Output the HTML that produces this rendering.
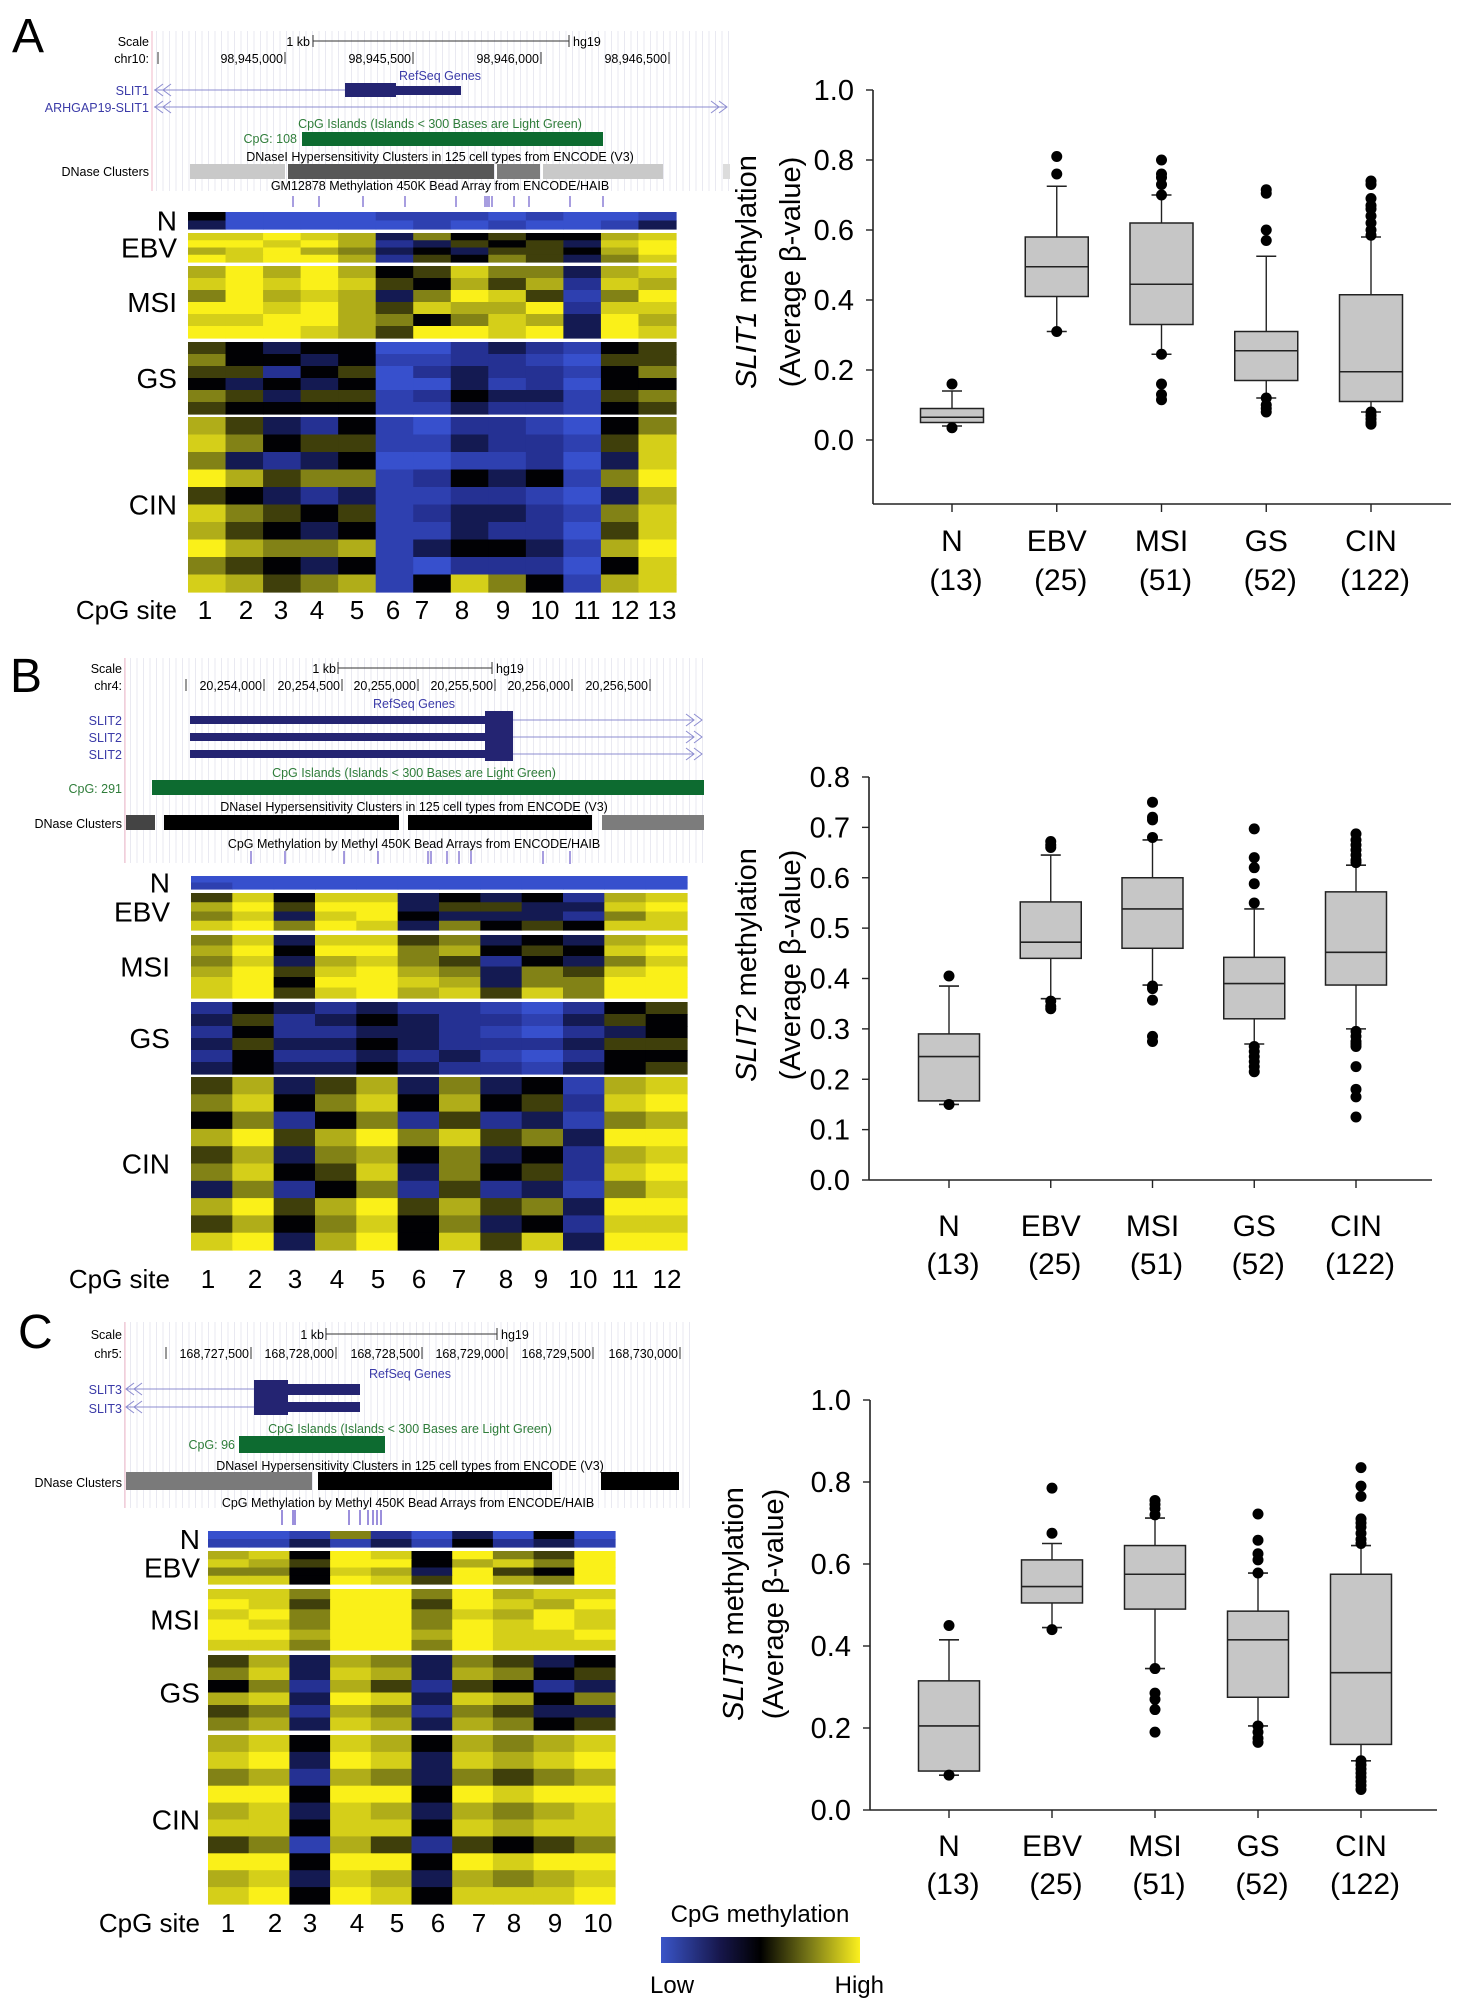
<!DOCTYPE html>
<html><head><meta charset="utf-8">
<style>
html,body{margin:0;padding:0;background:#fff;}
svg{display:block;font-family:"Liberation Sans",Arial,sans-serif;}
</style></head>
<body>
<svg id="fig" width="1461" height="2008" viewBox="0 0 1461 2008" xmlns="http://www.w3.org/2000/svg">
<defs>
<pattern id="grid" width="6.5" height="10" patternUnits="userSpaceOnUse"><rect x="0" y="0" width="1" height="10" fill="#e9e9f1"/></pattern>
<linearGradient id="cbar" x1="0" x2="1" y1="0" y2="0">
<stop offset="0" stop-color="#3a55c8"/><stop offset="0.3" stop-color="#16164a"/><stop offset="0.5" stop-color="#000"/><stop offset="0.75" stop-color="#7a7a18"/><stop offset="1" stop-color="#fbf01e"/>
</linearGradient>
</defs>

<!-- Panel letters -->
<text x="12" y="52" font-size="48">A</text>
<text x="10" y="692" font-size="48">B</text>
<text x="18" y="1348" font-size="48">C</text>

<!-- ===== Browser A ===== -->
<g font-size="12.5">
<rect x="151" y="31" width="579" height="160" fill="url(#grid)"/>
<line x1="152" y1="31" x2="152" y2="191" stroke="#f2b8c8"/>
<text x="149" y="46" text-anchor="end">Scale</text>
<text x="149" y="63" text-anchor="end">chr10:</text>
<text x="310" y="46" text-anchor="end">1 kb</text>
<line x1="313" y1="41" x2="569" y2="41" stroke="#333"/><line x1="313" y1="35" x2="313" y2="47" stroke="#333"/><line x1="569" y1="35" x2="569" y2="47" stroke="#333"/>
<text x="573" y="46">hg19</text>
<line x1="158" y1="52" x2="158" y2="64" stroke="#333"/>
<text x="283" y="63" text-anchor="end">98,945,000</text><line x1="285" y1="52" x2="285" y2="64" stroke="#333"/>
<text x="411" y="63" text-anchor="end">98,945,500</text><line x1="413" y1="52" x2="413" y2="64" stroke="#333"/>
<text x="539" y="63" text-anchor="end">98,946,000</text><line x1="541" y1="52" x2="541" y2="64" stroke="#333"/>
<text x="667" y="63" text-anchor="end">98,946,500</text><line x1="669" y1="52" x2="669" y2="64" stroke="#333"/>
<text x="440" y="80" text-anchor="middle" fill="#3b3ba8">RefSeq Genes</text>
<text x="149" y="95" text-anchor="end" fill="#3b3ba8">SLIT1</text>
<line x1="154" y1="90" x2="345" y2="90" stroke="#8c8cd0"/>
<polyline points="163,84 155,90 163,96" fill="none" stroke="#8c8cd0"/><polyline points="171,84 163,90 171,96" fill="none" stroke="#8c8cd0"/>
<rect x="345" y="83" width="51" height="14" fill="#242472"/><rect x="396" y="86" width="65" height="9" fill="#242472"/>
<text x="149" y="112" text-anchor="end" fill="#3b3ba8">ARHGAP19-SLIT1</text>
<line x1="154" y1="107" x2="727" y2="107" stroke="#8c8cd0"/>
<polyline points="163,101 155,107 163,113" fill="none" stroke="#8c8cd0"/><polyline points="171,101 163,107 171,113" fill="none" stroke="#8c8cd0"/>
<polyline points="711,101 719,107 711,113" fill="none" stroke="#8c8cd0"/><polyline points="719,101 727,107 719,113" fill="none" stroke="#8c8cd0"/>
<text x="440" y="128" text-anchor="middle" fill="#2f7d3a">CpG Islands (Islands &lt; 300 Bases are Light Green)</text>
<text x="297" y="143" text-anchor="end" fill="#2f7d3a">CpG: 108</text>
<rect x="302" y="132" width="301" height="14" fill="#0d6b30"/>
<text x="440" y="161" text-anchor="middle">DNaseI Hypersensitivity Clusters in 125 cell types from ENCODE (V3)</text>
<text x="149" y="176" text-anchor="end">DNase Clusters</text>
<rect x="190" y="164" width="95" height="15" fill="#c9c9c9"/><rect x="288" y="164" width="206" height="15" fill="#575757"/><rect x="497" y="164" width="43" height="15" fill="#7c7c7c"/><rect x="543" y="164" width="120" height="15" fill="#c9c9c9"/><rect x="723" y="164" width="7" height="15" fill="#dcdcdc"/>
<text x="440" y="190" text-anchor="middle">GM12878 Methylation 450K Bead Array from ENCODE/HAIB</text>
<g stroke="#7a6ad0" stroke-width="1.3"><line x1="293" y1="196" x2="293" y2="207"/><line x1="319" y1="196" x2="319" y2="207"/><line x1="363" y1="196" x2="363" y2="207"/><line x1="405" y1="196" x2="405" y2="207"/><line x1="456" y1="196" x2="456" y2="207"/><line x1="485" y1="196" x2="485" y2="207"/><line x1="487" y1="196" x2="487" y2="207"/><line x1="489" y1="196" x2="489" y2="207"/><line x1="492" y1="196" x2="492" y2="207"/><line x1="514" y1="196" x2="514" y2="207"/><line x1="529" y1="196" x2="529" y2="207"/><line x1="570" y1="196" x2="570" y2="207"/><line x1="603" y1="196" x2="603" y2="207"/></g>
</g>

<!-- ===== Browser B ===== -->
<g font-size="12.5">
<rect x="124" y="658" width="580" height="205" fill="url(#grid)"/>
<line x1="125" y1="658" x2="125" y2="863" stroke="#f2b8c8"/>
<text x="122" y="673" text-anchor="end">Scale</text>
<text x="122" y="690" text-anchor="end">chr4:</text>
<text x="336" y="673" text-anchor="end">1 kb</text>
<line x1="338" y1="668" x2="492" y2="668" stroke="#333"/><line x1="338" y1="662" x2="338" y2="674" stroke="#333"/><line x1="492" y1="662" x2="492" y2="674" stroke="#333"/>
<text x="496" y="673">hg19</text>
<line x1="186" y1="679" x2="186" y2="691" stroke="#333"/>
<text x="262" y="690" text-anchor="end">20,254,000</text><line x1="264" y1="679" x2="264" y2="691" stroke="#333"/>
<text x="340" y="690" text-anchor="end">20,254,500</text><line x1="342" y1="679" x2="342" y2="691" stroke="#333"/>
<text x="416" y="690" text-anchor="end">20,255,000</text><line x1="418" y1="679" x2="418" y2="691" stroke="#333"/>
<text x="493" y="690" text-anchor="end">20,255,500</text><line x1="495" y1="679" x2="495" y2="691" stroke="#333"/>
<text x="570" y="690" text-anchor="end">20,256,000</text><line x1="572" y1="679" x2="572" y2="691" stroke="#333"/>
<text x="648" y="690" text-anchor="end">20,256,500</text><line x1="650" y1="679" x2="650" y2="691" stroke="#333"/>
<text x="414" y="708" text-anchor="middle" fill="#3b3ba8">RefSeq Genes</text>
<text x="122" y="725" text-anchor="end" fill="#3b3ba8">SLIT2</text>
<text x="122" y="742" text-anchor="end" fill="#3b3ba8">SLIT2</text>
<text x="122" y="759" text-anchor="end" fill="#3b3ba8">SLIT2</text>
<rect x="190" y="716" width="295" height="8" fill="#242472"/><rect x="190" y="733" width="295" height="8" fill="#242472"/><rect x="190" y="750" width="295" height="8" fill="#242472"/>
<rect x="485" y="711" width="28" height="50" fill="#242472"/>
<g stroke="#8c8cd0" fill="none"><line x1="513" y1="720" x2="694" y2="720"/><line x1="513" y1="737" x2="694" y2="737"/><line x1="513" y1="754" x2="694" y2="754"/>
<polyline points="686,714 694,720 686,726"/><polyline points="694,714 702,720 694,726"/><polyline points="686,731 694,737 686,743"/><polyline points="694,731 702,737 694,743"/><polyline points="686,748 694,754 686,760"/><polyline points="694,748 702,754 694,760"/></g>
<text x="414" y="777" text-anchor="middle" fill="#2f7d3a">CpG Islands (Islands &lt; 300 Bases are Light Green)</text>
<text x="122" y="793" text-anchor="end" fill="#2f7d3a">CpG: 291</text>
<rect x="152" y="780" width="552" height="15" fill="#0d6b30"/>
<text x="414" y="811" text-anchor="middle">DNaseI Hypersensitivity Clusters in 125 cell types from ENCODE (V3)</text>
<text x="122" y="828" text-anchor="end">DNase Clusters</text>
<rect x="126" y="815" width="29" height="15" fill="#444"/><rect x="164" y="815" width="235" height="15" fill="#000"/><rect x="408" y="815" width="184" height="15" fill="#000"/><rect x="602" y="815" width="102" height="15" fill="#7c7c7c"/>
<text x="414" y="848" text-anchor="middle">CpG Methylation by Methyl 450K  Bead Arrays from ENCODE/HAIB</text>
<g stroke="#7a6ad0" stroke-width="1.3"><line x1="251" y1="851" x2="251" y2="864"/><line x1="285" y1="851" x2="285" y2="864"/><line x1="344" y1="851" x2="344" y2="864"/><line x1="378" y1="851" x2="378" y2="864"/><line x1="428" y1="851" x2="428" y2="864"/><line x1="431" y1="851" x2="431" y2="864"/><line x1="447" y1="851" x2="447" y2="864"/><line x1="459" y1="851" x2="459" y2="864"/><line x1="471" y1="851" x2="471" y2="864"/><line x1="543" y1="851" x2="543" y2="864"/><line x1="570" y1="851" x2="570" y2="864"/></g>
</g>

<!-- ===== Browser C ===== -->
<g font-size="12.5">
<rect x="124" y="1322" width="566" height="186" fill="url(#grid)"/>
<line x1="125" y1="1322" x2="125" y2="1508" stroke="#f2b8c8"/>
<text x="122" y="1339" text-anchor="end">Scale</text>
<text x="122" y="1358" text-anchor="end">chr5:</text>
<text x="324" y="1339" text-anchor="end">1 kb</text>
<line x1="326" y1="1334" x2="497" y2="1334" stroke="#333"/><line x1="326" y1="1328" x2="326" y2="1340" stroke="#333"/><line x1="497" y1="1328" x2="497" y2="1340" stroke="#333"/>
<text x="501" y="1339">hg19</text>
<line x1="166" y1="1347" x2="166" y2="1359" stroke="#333"/>
<text x="249" y="1358" text-anchor="end">168,727,500</text><line x1="251" y1="1347" x2="251" y2="1359" stroke="#333"/>
<text x="334" y="1358" text-anchor="end">168,728,000</text><line x1="336" y1="1347" x2="336" y2="1359" stroke="#333"/>
<text x="420" y="1358" text-anchor="end">168,728,500</text><line x1="422" y1="1347" x2="422" y2="1359" stroke="#333"/>
<text x="505" y="1358" text-anchor="end">168,729,000</text><line x1="507" y1="1347" x2="507" y2="1359" stroke="#333"/>
<text x="591" y="1358" text-anchor="end">168,729,500</text><line x1="593" y1="1347" x2="593" y2="1359" stroke="#333"/>
<text x="678" y="1358" text-anchor="end">168,730,000</text><line x1="680" y1="1347" x2="680" y2="1359" stroke="#333"/>
<text x="410" y="1378" text-anchor="middle" fill="#3b3ba8">RefSeq Genes</text>
<text x="122" y="1394" text-anchor="end" fill="#3b3ba8">SLIT3</text>
<text x="122" y="1413" text-anchor="end" fill="#3b3ba8">SLIT3</text>
<g stroke="#8c8cd0" fill="none"><line x1="126" y1="1389" x2="254" y2="1389"/><line x1="126" y1="1407" x2="254" y2="1407"/>
<polyline points="134,1383 126,1389 134,1395"/><polyline points="142,1383 134,1389 142,1395"/><polyline points="134,1401 126,1407 134,1413"/><polyline points="142,1401 134,1407 142,1413"/></g>
<rect x="254" y="1380" width="34" height="35" fill="#242472"/><rect x="288" y="1384" width="72" height="11" fill="#242472"/><rect x="288" y="1402" width="72" height="10" fill="#242472"/>
<text x="410" y="1433" text-anchor="middle" fill="#2f7d3a">CpG Islands (Islands &lt; 300 Bases are Light Green)</text>
<text x="235" y="1449" text-anchor="end" fill="#2f7d3a">CpG: 96</text>
<rect x="239" y="1436" width="146" height="17" fill="#0d6b30"/>
<text x="410" y="1470" text-anchor="middle">DNaseI Hypersensitivity Clusters in 125 cell types from ENCODE (V3)</text>
<text x="122" y="1487" text-anchor="end">DNase Clusters</text>
<rect x="126" y="1472" width="186" height="18" fill="#7a7a7a"/><rect x="318" y="1472" width="234" height="18" fill="#000"/><rect x="601" y="1472" width="78" height="18" fill="#000"/>
<text x="408" y="1507" text-anchor="middle">CpG Methylation by Methyl 450K  Bead Arrays from ENCODE/HAIB</text>
<g stroke="#7a6ad0" stroke-width="1.5"><line x1="282" y1="1510" x2="282" y2="1525"/><line x1="293" y1="1510" x2="293" y2="1525"/><line x1="295" y1="1510" x2="295" y2="1525"/><line x1="349" y1="1510" x2="349" y2="1525"/><line x1="360" y1="1510" x2="360" y2="1525"/><line x1="368" y1="1510" x2="368" y2="1525"/><line x1="373" y1="1510" x2="373" y2="1525"/><line x1="377" y1="1510" x2="377" y2="1525"/><line x1="381" y1="1510" x2="381" y2="1525"/></g>
</g>

<!-- colour bar legend -->
<g>
<text x="760" y="1922" text-anchor="middle" font-size="24">CpG methylation</text>
<rect x="661" y="1937" width="199" height="26" fill="url(#cbar)"/>
<text x="650" y="1993" font-size="24">Low</text>
<text x="884" y="1993" font-size="24" text-anchor="end">High</text>
</g>
</svg>

<script>
// ---------------- shared data ----------------
const groupNames = ["N", "EBV", "MSI", "GS", "CIN"];
const groupCounts = ["(13)", "(25)", "(51)", "(52)", "(122)"];

// ---- Box plot data: SLIT1 (panel A) ----
const slit1Low    = [0.04, 0.31, 0.245, 0.12, 0.08];
const slit1Q1     = [0.05, 0.41, 0.33, 0.17, 0.11];
const slit1Median = [0.065, 0.495, 0.445, 0.255, 0.195];
const slit1Q3     = [0.09, 0.58, 0.62, 0.31, 0.415];
const slit1High   = [0.14, 0.725, 0.70, 0.525, 0.58];
const slit1Outliers = [
  [0.16, 0.035],
  [0.81, 0.76, 0.31],
  [0.80, 0.76, 0.75, 0.73, 0.70, 0.245, 0.16, 0.13, 0.115],
  [0.715, 0.705, 0.60, 0.57, 0.12, 0.10, 0.09, 0.08],
  [0.74, 0.73, 0.69, 0.67, 0.66, 0.64, 0.62, 0.60, 0.585, 0.08, 0.07, 0.06, 0.05, 0.045]
];
const slit1Ticks = ["0.0", "0.2", "0.4", "0.6", "0.8", "1.0"];

// ---- SLIT2 (panel B) ----
const slit2Low    = [0.15, 0.36, 0.387, 0.27, 0.30];
const slit2Q1     = [0.157, 0.44, 0.46, 0.32, 0.387];
const slit2Median = [0.245, 0.472, 0.538, 0.39, 0.452];
const slit2Q3     = [0.29, 0.552, 0.60, 0.442, 0.572];
const slit2High   = [0.385, 0.645, 0.675, 0.538, 0.625];
const slit2Outliers = [
  [0.405, 0.15],
  [0.672, 0.665, 0.66, 0.355, 0.345, 0.34],
  [0.75, 0.72, 0.715, 0.68, 0.385, 0.38, 0.357, 0.285, 0.275],
  [0.697, 0.64, 0.62, 0.588, 0.55, 0.265, 0.255, 0.245, 0.235, 0.225, 0.215],
  [0.687, 0.675, 0.665, 0.655, 0.645, 0.635, 0.63, 0.295, 0.285, 0.275, 0.27, 0.265, 0.225, 0.18, 0.165, 0.125]
];
const slit2Ticks = ["0.0", "0.1", "0.2", "0.3", "0.4", "0.5", "0.6", "0.7", "0.8"];

// ---- SLIT3 (panel C) ----
const slit3Low    = [0.085, 0.445, 0.345, 0.205, 0.12];
const slit3Q1     = [0.095, 0.505, 0.49, 0.275, 0.16];
const slit3Median = [0.205, 0.545, 0.575, 0.415, 0.335];
const slit3Q3     = [0.315, 0.61, 0.645, 0.485, 0.575];
const slit3High   = [0.415, 0.65, 0.712, 0.578, 0.645];
const slit3Outliers = [
  [0.45, 0.085],
  [0.785, 0.675, 0.44],
  [0.755, 0.745, 0.735, 0.72, 0.345, 0.285, 0.27, 0.245, 0.19],
  [0.722, 0.658, 0.625, 0.61, 0.578, 0.205, 0.19, 0.175, 0.165],
  [0.835, 0.79, 0.765, 0.71, 0.70, 0.69, 0.675, 0.66, 0.65, 0.12, 0.11, 0.10, 0.09, 0.08, 0.07, 0.06, 0.05]
];
const slit3Ticks = ["0.0", "0.2", "0.4", "0.6", "0.8", "1.0"];

// ---- Heatmap data (digit per CpG site: 0 = low/blue ... 9 = high/yellow) ----
const heatA_N   = ["4000011101001", "3000001010013"];
const heatA_EBV = ["8898736454478", "9989723545389", "7897634355479", "9899725465368"];
const heatA_MSI = ["7979745866378", "8989854757287", "6978736985169", "9989758779288", "8899764687397", "9998759989398"];
const heatA_GS  = ["5434400232145", "6443411221055", "5524502322146", "4343400312044", "6535512433156", "5444411322145"];
const heatA_CIN = ["7532410221046", "8645511322158", "6323400112038", "9756612434169", "5432311221037", "8654512332168", "7543411322058", "9766713443179", "6543410222048", "8756714864178"];

const heatB_N   = ["000000000000", "100000000000"];
const heatB_EBV = ["584883434278", "795993553389", "683894333268", "896983645488"];
const heatB_MSI = ["683885634378", "794996745489", "683786524368", "795897636589", "894998736699", "895897858699"];
const heatB_GS  = ["243232210245", "352343221354", "242233210234", "353343222355", "242232310244", "343343221345"];
const heatB_CIN = ["573573634178", "684684745289", "462462523167", "795796856399", "573674634278", "684583645289", "362462523168", "795795756399", "574684634288", "893794858399"];

const heatC_N   = ["0016203040", "1131314231"];
const heatC_EBV = ["7849849659", "8759947869", "6648739549", "8849859769"];
const heatC_MSI = ["8869969788", "9859959879", "8969968798", "9869969898", "9979979889", "8869969888"];
const heatC_GS  = ["5737636534", "6838737645", "4627525423", "7839838746", "5627626533", "6738737645"];
const heatC_CIN = ["7848747678", "8939838789", "6727636567", "9949949899", "7838737678", "8848848788", "5617525456", "9949949899", "7838737678", "8949848889"];

const cpgSitesA = ["1","2","3","4","5","6","7","8","9","10","11","12","13"];
const cpgSitesB = ["1","2","3","4","5","6","7","8","9","10","11","12"];
const cpgSitesC = ["1","2","3","4","5","6","7","8","9","10"];

// ---------------- rendering ----------------
const NS = "http://www.w3.org/2000/svg";
const svg = document.getElementById("fig");
function mk(tag, attrs, parent) {
  const el = document.createElementNS(NS, tag);
  for (const k in attrs) el.setAttribute(k, attrs[k]);
  (parent || svg).appendChild(el);
  return el;
}

// colour scale for methylation
const cStops = [[0, [55, 80, 205]], [0.25, [35, 45, 140]], [0.45, [0, 0, 0]], [0.7, [150, 150, 25]], [1, [250, 240, 25]]];
function heatColor(v) {
  const t = Math.max(0, Math.min(1, v / 9));
  for (let i = 1; i < cStops.length; i++) {
    if (t <= cStops[i][0]) {
      const a = cStops[i - 1], b = cStops[i];
      const f = (t - a[0]) / (b[0] - a[0]);
      const c = a[1].map((x, j) => Math.round(x + (b[1][j] - x) * f));
      return "rgb(" + c.join(",") + ")";
    }
  }
  return "rgb(250,240,25)";
}

function drawHeatmap(cfg) {
  const g = mk("g", {});
  
  
  const nCols = cfg.sites.length;
  const colW = (cfg.x1 - cfg.x0) / nCols;
  cfg.groups.forEach((rows, gi) => {
    const [gy0, gy1] = cfg.bands[gi];
    const rowH = (gy1 - gy0) / rows.length;
    const gg = mk("g", {}, g);
    
    
    rows.forEach((row, ri) => {
      for (let c = 0; c < nCols; c++) {
        const v = +row[c];
        const r = mk("rect", {x: (cfg.x0 + c * colW).toFixed(2), y: (gy0 + ri * rowH).toFixed(2), width: (colW + 0.6).toFixed(2), height: (rowH + 0.6).toFixed(2), fill: heatColor(v)}, gg);
        
        
      }
    });
    const lbl = mk("text", {x: cfg.labelX, y: (gy0 + gy1) / 2 + 10, "text-anchor": "end", "font-size": 28}, g);
    lbl.textContent = groupNames[gi];
    
    
  });
  const cl = mk("text", {x: cfg.labelX, y: cfg.siteY, "text-anchor": "end", "font-size": 26}, g);
  cl.textContent = "CpG site";
  
  
  cfg.sites.forEach((s, i) => {
    const t = mk("text", {x: cfg.siteXs[i], y: cfg.siteY, "text-anchor": "middle", "font-size": 26}, g);
    t.textContent = s;
    
    
  });
}

drawHeatmap({name: "heatmap-slit1", x0: 188, x1: 676, labelX: 177, siteY: 619,
  sites: cpgSitesA, siteXs: [205,246,281,317,357,393,422,462,503,545,587,625,662],
  groups: [heatA_N, heatA_EBV, heatA_MSI, heatA_GS, heatA_CIN],
  bands: [[212,229],[233,262],[266,338],[342,414],[417,592]]});
drawHeatmap({name: "heatmap-slit2", x0: 191, x1: 687, labelX: 170, siteY: 1288,
  sites: cpgSitesB, siteXs: [208,255,295,337,378,419,459,506,541,583,625,667],
  groups: [heatB_N, heatB_EBV, heatB_MSI, heatB_GS, heatB_CIN],
  bands: [[876,889],[893,930],[935,998],[1002,1074],[1077,1250]]});
drawHeatmap({name: "heatmap-slit3", x0: 208, x1: 615, labelX: 200, siteY: 1932,
  sites: cpgSitesC, siteXs: [228,275,310,357,397,438,479,514,555,598],
  groups: [heatC_N, heatC_EBV, heatC_MSI, heatC_GS, heatC_CIN],
  bands: [[1531,1547],[1551,1584],[1589,1650],[1655,1730],[1735,1904]]});

function drawBoxChart(cfg) {
  const g = mk("g", {});
  
  
  const yScale = v => cfg.pyMin + (v - cfg.vMin) / (cfg.vMax - cfg.vMin) * (cfg.pyMax - cfg.pyMin);
  const xScale = i => cfg.xFirst + i * cfg.xStep;
  const ya = mk("line", {x1: cfg.axisX, y1: yScale(cfg.vMax), x2: cfg.axisX, y2: cfg.bottom, stroke: "#222", "stroke-width": 1.6}, g);
  
  
  const xa = mk("line", {x1: cfg.axisX, y1: cfg.bottom, x2: cfg.xEnd, y2: cfg.bottom, stroke: "#222", "stroke-width": 1.6}, g);
  
  
  cfg.ticks.forEach(t => {
    const y = yScale(parseFloat(t));
    mk("line", {x1: cfg.axisX - 7, y1: y, x2: cfg.axisX, y2: y, stroke: "#222", "stroke-width": 1.4}, g);
    const tl = mk("text", {x: cfg.axisX - 19, y: y + 10, "text-anchor": "end", "font-size": 29}, g);
    tl.textContent = t;
    
    
  });
  const tt = mk("text", {transform: "translate(" + cfg.titleX1 + "," + cfg.titleY + ") rotate(-90)", "text-anchor": "middle", "font-size": 29}, g);
  
  
  const it = mk("tspan", {"font-style": "italic"}, tt); it.textContent = cfg.gene;
  const rt = mk("tspan", {}, tt); rt.textContent = " methylation";
  const tt2 = mk("text", {transform: "translate(" + cfg.titleX2 + "," + cfg.titleY + ") rotate(-90)", "text-anchor": "middle", "font-size": 29}, g);
  tt2.textContent = "(Average \u03B2-value)";
  
  
  const hw = cfg.boxW / 2;
  groupNames.forEach((name, i) => {
    const x = xScale(i);
    const bg = mk("g", {}, g);
    
    
    mk("line", {x1: x, y1: cfg.bottom, x2: x, y2: cfg.bottom + 8, stroke: "#222", "stroke-width": 1.4}, bg);
    const yl = yScale(cfg.low[i]), yq1 = yScale(cfg.q1[i]), ym = yScale(cfg.med[i]), yq3 = yScale(cfg.q3[i]), yh = yScale(cfg.high[i]);
    mk("line", {x1: x, y1: yh, x2: x, y2: yq3, stroke: "#222", "stroke-width": 1.4}, bg);
    mk("line", {x1: x, y1: yq1, x2: x, y2: yl, stroke: "#222", "stroke-width": 1.4}, bg);
    mk("line", {x1: x - 10, y1: yh, x2: x + 10, y2: yh, stroke: "#222", "stroke-width": 1.6}, bg);
    mk("line", {x1: x - 10, y1: yl, x2: x + 10, y2: yl, stroke: "#222", "stroke-width": 1.6}, bg);
    mk("rect", {x: x - hw, y: yq3, width: cfg.boxW, height: yq1 - yq3, fill: "#c6c6c6", stroke: "#222", "stroke-width": 1.5}, bg);
    mk("line", {x1: x - hw, y1: ym, x2: x + hw, y2: ym, stroke: "#222", "stroke-width": 1.6}, bg);
    cfg.outliers[i].forEach(v => {
      const c = mk("circle", {cx: x, cy: yScale(v), r: 5.5, fill: "#000"}, bg);
      
      
    });
    const n1 = mk("text", {x: x, y: cfg.labY1, "text-anchor": "middle", "font-size": 30}, g);
    n1.textContent = name;
    
    
    const n2 = mk("text", {x: x + 4, y: cfg.labY2, "text-anchor": "middle", "font-size": 30}, g);
    n2.textContent = groupCounts[i];
    
    
  });
}

drawBoxChart({name: "boxplot-slit1", gene: "SLIT1", axisX: 873, xEnd: 1451, bottom: 504,
  vMin: 0, vMax: 1.0, pyMin: 440, pyMax: 90, xFirst: 952, xStep: 104.75, boxW: 63,
  ticks: slit1Ticks, low: slit1Low, q1: slit1Q1, med: slit1Median, q3: slit1Q3, high: slit1High, outliers: slit1Outliers,
  titleX1: 756, titleX2: 800, titleY: 272, labY1: 551, labY2: 590});
drawBoxChart({name: "boxplot-slit2", gene: "SLIT2", axisX: 869, xEnd: 1432, bottom: 1180,
  vMin: 0, vMax: 0.8, pyMin: 1180, pyMax: 777, xFirst: 949, xStep: 101.75, boxW: 61,
  ticks: slit2Ticks, low: slit2Low, q1: slit2Q1, med: slit2Median, q3: slit2Q3, high: slit2High, outliers: slit2Outliers,
  titleX1: 756, titleX2: 800, titleY: 965, labY1: 1236, labY2: 1274});
drawBoxChart({name: "boxplot-slit3", gene: "SLIT3", axisX: 870, xEnd: 1437, bottom: 1810,
  vMin: 0, vMax: 1.0, pyMin: 1810, pyMax: 1400, xFirst: 949, xStep: 103, boxW: 61,
  ticks: slit3Ticks, low: slit3Low, q1: slit3Q1, med: slit3Median, q3: slit3Q3, high: slit3High, outliers: slit3Outliers,
  titleX1: 743, titleX2: 783, titleY: 1604, labY1: 1856, labY2: 1894});
</script>
</body></html>
